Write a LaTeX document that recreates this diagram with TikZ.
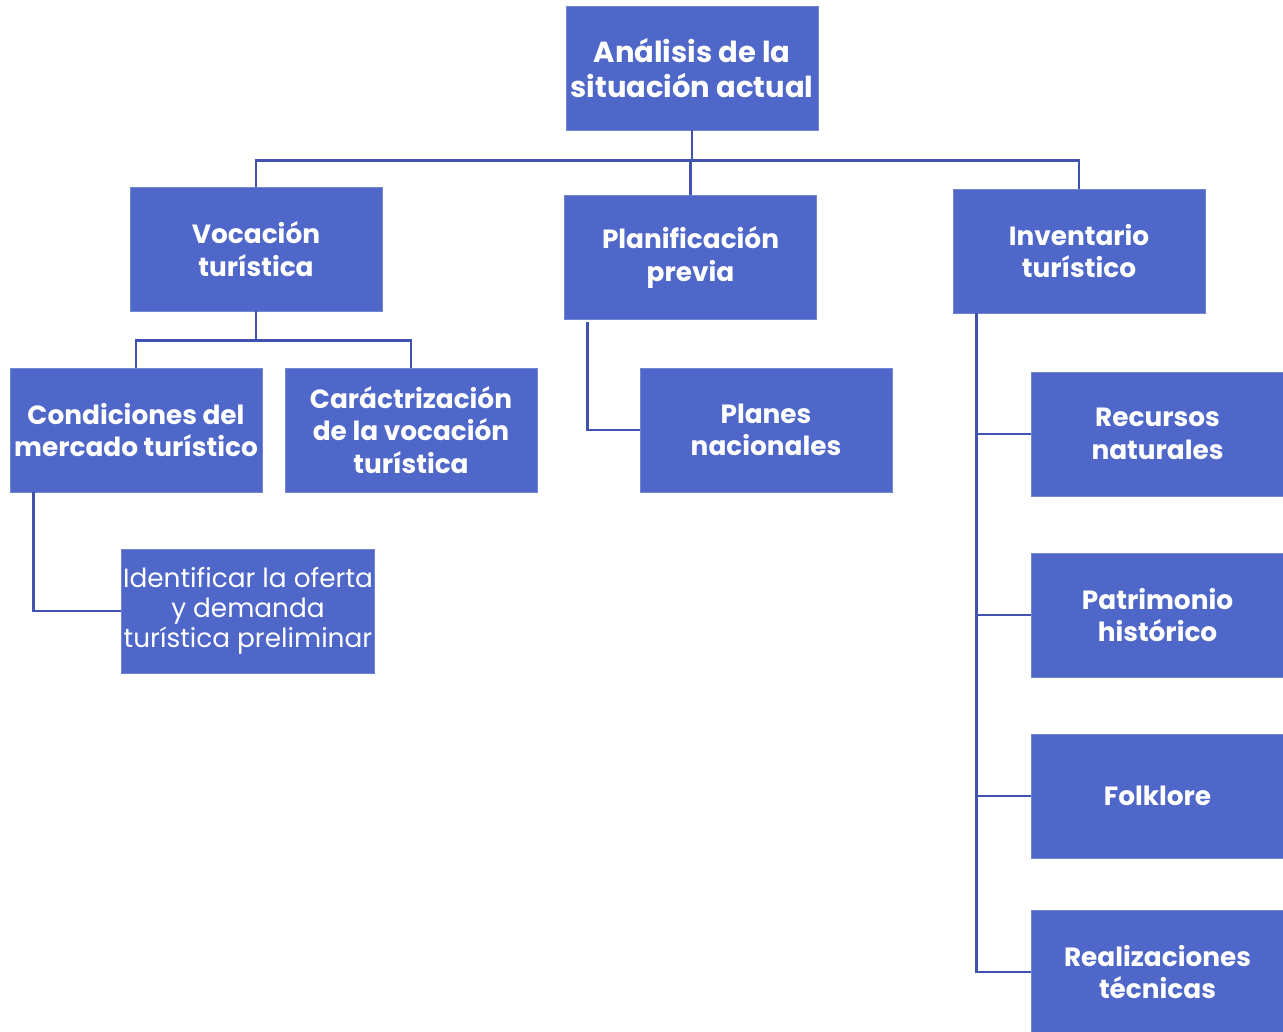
\documentclass[tikz,border=0pt]{standalone}
\usepackage{fontspec}
\setmainfont{Poppins}
\usetikzlibrary{positioning,calc}
\definecolor{boxblue}{HTML}{4F67C8}
\definecolor{lineblue}{HTML}{3F52B0}
\tikzset{
    topic/.style={draw=boxblue!80!white, fill=boxblue, text=white, minimum width=5.04cm, minimum height=2.48cm,
                  align=center, inner sep=1pt, font=\fontsize{15}{18.5}\selectfont\bfseries},
    topicR/.style={topic, font=\fontsize{16.5}{20}\selectfont\bfseries},
    topicL/.style={topic, font=\fontsize{15}{17}\selectfont},
    link/.style={draw=lineblue, line width=1.5pt},
}

\begin{document}
\begin{tikzpicture}[x=0.02cm, y=-0.02cm]
    \useasboundingbox (0,0) rectangle (1283,1031);

    % Root
    \node[topicR] (root) at (692,68) {Análisis de la\\situación actual};

    % Second level
    \node[topic] (voc) at (256,249) {Vocación\\turística};
    \node[topic] (plan) at (690.5,257.5) {Planificación\\previa};
    \node[topic] (inv) at (1079,251) {Inventario\\turístico};

    % Under Vocación
    \node[topic] (cond) at (136,430) {Condiciones del\\mercado turístico};
    \node[topic] (carac) at (411,430) {Caráctrización\\de la vocación\\turística};
    \node[topicL] (ident) at (248,611) {Identificar la oferta\\y demanda\\turística preliminar};

    % Under Planificación
    \node[topic] (planes) at (766,430) {Planes\\nacionales};

    % Under Inventario
    \node[topic] (rec) at (1157.5,434) {Recursos\\naturales};
    \node[topic] (pat) at (1157.5,615) {Patrimonio\\histórico};
    \node[topic] (folk) at (1157.5,796) {Folklore};
    \node[topic] (real) at (1157.5,972) {Realizaciones\\técnicas};

    % Root links
    \coordinate (rj) at ($(root.south)+(0,30)$);
    \draw[link] (root.south) -- (rj);
    \draw[link] (rj) -| (voc.north);
    \draw[link] (rj) -| (inv.north);
    \draw[link] (rj -| plan.north) -- (plan.north);

    % Vocación links
    \coordinate (vj) at ($(voc.south)+(0,29)$);
    \draw[link] (voc.south) -- (vj);
    \draw[link] (vj) -| (cond.north);
    \draw[link] (vj) -| (carac.north);
    \coordinate (cj) at ($(cond.south west)+(24,0)$);
    \draw[link] (cj) |- (ident.west);

    % Planificación link
    \coordinate (pj) at ($(plan.south west)+(23,2)$);
    \draw[link] (pj) |- (planes.west);

    % Inventario links
    \coordinate (ij) at ($(inv.south west)+(24,0)$);
    \draw[link] (ij) |- (real.west);
    \draw[link] (ij |- rec.west) -- (rec.west);
    \draw[link] (ij |- pat.west) -- (pat.west);
    \draw[link] (ij |- folk.west) -- (folk.west);
\end{tikzpicture}
\end{document}
